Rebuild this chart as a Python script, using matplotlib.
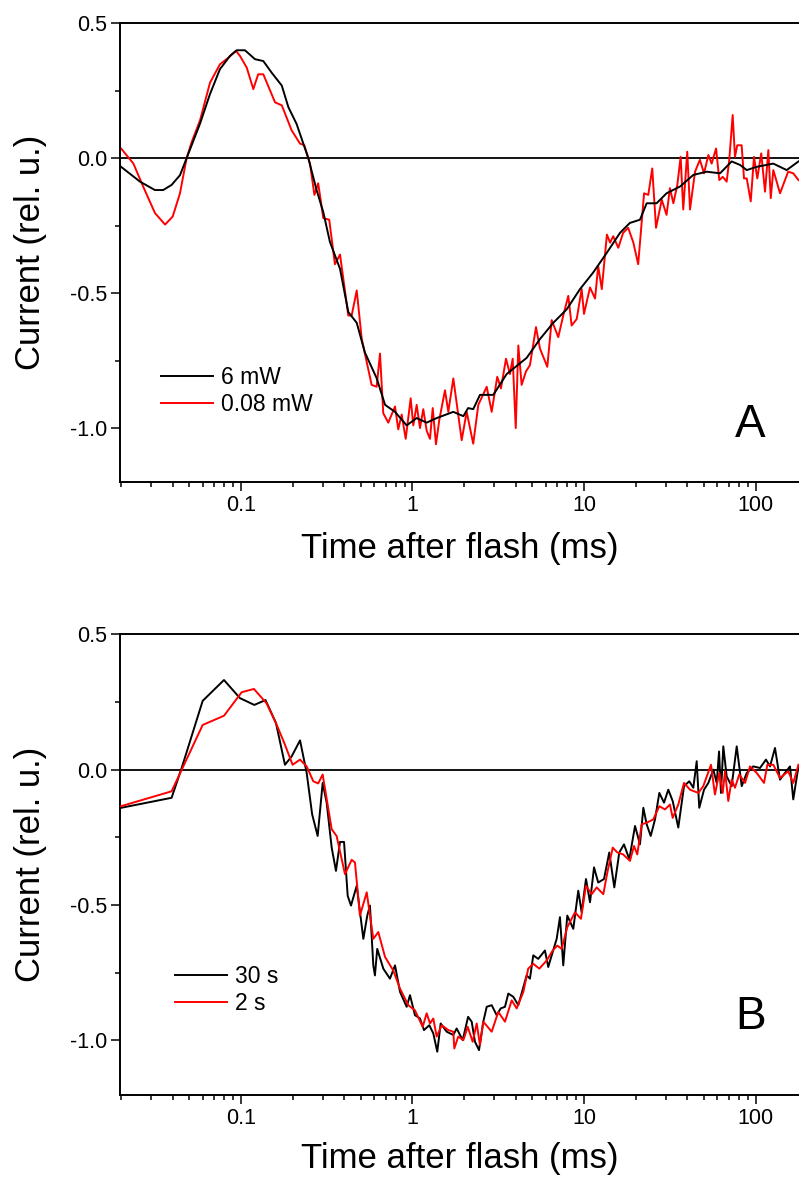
import matplotlib
matplotlib.use("Agg")
import matplotlib.pyplot as plt
from matplotlib.ticker import FixedLocator, NullFormatter
import numpy as np

plt.rcParams['font.family'] = ['Liberation Sans', 'DejaVu Sans']
plt.rcParams['axes.unicode_minus'] = False

# panel A: 6 mW vs 0.08 mW
t_a_6mw = [0.02, 0.0258, 0.0315, 0.0352, 0.0394, 0.0441, 0.0482, 0.0577, 0.066, 0.0754,
           0.0863, 0.0944, 0.1055, 0.1207, 0.135, 0.151, 0.173, 0.189, 0.211, 0.231,
           0.247, 0.276, 0.302, 0.330, 0.378, 0.4225, 0.473, 0.528, 0.618, 0.692,
           0.791, 0.925, 1.058, 1.21, 1.384, 1.73, 1.98, 2.11, 2.26, 2.475,
           2.96, 3.54, 4.63, 5.54, 6.62, 7.93, 9.48, 11.3, 13.6, 16.2,
           18.5, 21.2, 23.2, 26.5, 30.3, 36.3, 43.4, 51.9, 62.1, 72.6,
           81.3, 88.9, 101.6, 127, 152, 178]
i_a_6mw = [-0.032, -0.087, -0.118, -0.118, -0.099, -0.063, 0.0, 0.128, 0.238, 0.33,
           0.379, 0.40, 0.40, 0.367, 0.36, 0.317, 0.269, 0.189, 0.127, 0.054,
           0.0, -0.118, -0.2, -0.31, -0.41, -0.57, -0.61, -0.72, -0.815, -0.914,
           -0.94, -0.99, -0.963, -0.98, -0.963, -0.94, -0.956, -0.926, -0.93, -0.877,
           -0.877, -0.80, -0.74, -0.67, -0.61, -0.56, -0.485, -0.424, -0.35, -0.277,
           -0.24, -0.228, -0.167, -0.167, -0.13, -0.105, -0.062, -0.05, -0.056, -0.012,
           -0.025, -0.044, -0.032, -0.02, -0.044, -0.012]

t_a_008mw = [0.02, 0.0236, 0.0269, 0.0315, 0.0361, 0.040, 0.0441, 0.0482, 0.0516, 0.0577,
             0.066, 0.0754, 0.0843, 0.0935, 0.0987, 0.108, 0.118, 0.126, 0.135, 0.158,
             0.173, 0.1975, 0.221, 0.234, 0.2526, 0.268, 0.282, 0.302, 0.327, 0.353,
             0.378, 0.4225, 0.442, 0.473, 0.506, 0.578, 0.618, 0.6465, 0.6755, 0.7226,
             0.791, 0.826, 0.865, 0.913, 0.976, 1.011, 1.058, 1.106, 1.156, 1.21,
             1.265, 1.312, 1.371, 1.433, 1.547, 1.618, 1.73, 1.936, 2.07, 2.26,
             2.42, 2.709, 2.896, 3.12, 3.28, 3.51, 3.70, 3.84, 4.0, 4.14,
             4.33, 4.59, 4.84, 5.25, 5.54, 6.11, 6.48, 7.08, 7.57, 8.10,
             8.47, 9.07, 9.69, 10.0, 10.84, 11.6, 12.1, 12.7, 13.6, 14.2,
             14.8, 15.85, 16.9, 18.1, 19.4, 20.7, 22.4, 23.7, 25.0, 26.3,
             28.4, 30.3, 31.7, 33.2, 35.0, 36.6, 37.9, 40.0, 41.5, 44.4,
             47.4, 50.1, 53.1, 55.5, 58.9, 61.5, 64.4, 67.9, 70.3, 73.6,
             75.9, 78.3, 83.0, 85.7, 88.9, 93.8, 98.0, 102.4, 108, 113.6,
             118.8, 122.7, 127, 139, 155, 166, 178]
i_a_008mw = [0.036, -0.02, -0.105, -0.203, -0.246, -0.216, -0.13, 0.0, 0.06, 0.14,
             0.28, 0.348, 0.372, 0.398, 0.379, 0.336, 0.256, 0.311, 0.311, 0.207,
             0.196, 0.103, 0.054, 0.048, -0.02, -0.136, -0.093, -0.222, -0.228, -0.393,
             -0.357, -0.583, -0.583, -0.49, -0.67, -0.84, -0.847, -0.724, -0.945, -0.98,
             -0.92, -1.005, -0.95, -1.04, -0.89, -0.99, -0.914, -1.0, -0.93, -1.01,
             -1.04, -0.926, -1.06, -0.97, -0.86, -0.94, -0.816, -1.045, -0.94, -1.058,
             -0.914, -0.847, -0.94, -0.81, -0.853, -0.743, -0.80, -0.743, -1.0, -0.694,
             -0.84, -0.79, -0.767, -0.626, -0.706, -0.773, -0.60, -0.663, -0.583, -0.51,
             -0.62, -0.596, -0.485, -0.577, -0.479, -0.52, -0.40, -0.485, -0.283, -0.313,
             -0.289, -0.332, -0.277, -0.258, -0.313, -0.393, -0.13, -0.136, -0.038, -0.258,
             -0.154, -0.21, -0.111, -0.167, -0.099, 0.005, -0.19, 0.024, -0.19, -0.05,
             -0.006, -0.056, 0.012, -0.02, 0.036, -0.081, -0.069, -0.087, -0.006, 0.16,
             0.005, 0.048, 0.048, -0.075, -0.075, -0.16, 0.005, -0.075, 0.018, -0.124,
             0.03, -0.148, -0.044, -0.13, -0.05, -0.056, -0.081]

# panel B: 30 s vs 2 s
t_b_30s = [0.02, 0.0394, 0.0451, 0.0598, 0.0796, 0.0987, 0.1196, 0.139, 0.160, 0.1805,
           0.1975, 0.221, 0.2416, 0.260, 0.280, 0.2995, 0.316, 0.338, 0.358, 0.378,
           0.399, 0.419, 0.438, 0.473, 0.517, 0.545, 0.565, 0.591, 0.604, 0.623,
           0.676, 0.739, 0.791, 0.846, 0.925, 0.967, 1.034, 1.106, 1.167, 1.253,
           1.322, 1.395, 1.46, 1.583, 1.73, 1.81, 1.962, 2.11, 2.214, 2.314,
           2.443, 2.587, 2.709, 2.896, 3.097, 3.268, 3.462, 3.62, 3.87, 4.14,
           4.63, 4.84, 5.06, 5.41, 5.92, 6.19, 6.48, 6.93, 7.24, 7.57,
           7.99, 8.66, 9.26, 9.69, 10.27, 10.84, 11.44, 12.1, 13.08, 14.04,
           15.02, 16.06, 17.11, 18.37, 19.84, 21.2, 22.18, 23.2, 24.49, 25.94,
           27.49, 29.28, 31.01, 32.9, 35.46, 38.3, 41.1, 43.4, 45.4, 47.0,
           50.1, 53.1, 56.75, 59.4, 61.3, 62.9, 64.9, 67.9, 72.6, 77.7,
           83.1, 88.9, 97.1, 106.2, 115.1, 121.5, 129.9, 138.9, 148.6, 158.9,
           166, 178]
i_b_30s = [-0.141, -0.104, 0.006, 0.254, 0.331, 0.264, 0.239, 0.257, 0.172, 0.018,
           0.049, 0.108, -0.012, -0.165, -0.245, -0.049, -0.122, -0.288, -0.374, -0.267,
           -0.267, -0.466, -0.502, -0.429, -0.625, -0.539, -0.502, -0.723, -0.76, -0.662,
           -0.735, -0.772, -0.723, -0.821, -0.876, -0.833, -0.907, -0.919, -0.962, -0.944,
           -0.974, -1.042, -0.9375, -0.968, -0.98, -0.956, -0.999, -0.913, -0.931, -1.005,
           -1.036, -0.931, -0.876, -0.87, -0.907, -0.882, -0.876, -0.827, -0.839, -0.87,
           -0.76, -0.772, -0.686, -0.699, -0.668, -0.729, -0.686, -0.625, -0.545, -0.723,
           -0.539, -0.588, -0.447, -0.527, -0.404, -0.49, -0.361, -0.417, -0.404, -0.306,
           -0.435, -0.306, -0.276, -0.331, -0.208, -0.276, -0.141, -0.202, -0.245, -0.184,
           -0.086, -0.122, -0.074, -0.116, -0.214, -0.061, -0.043, -0.067, 0.031, -0.141,
           -0.074, -0.049, 0.0, -0.049, 0.067, -0.086, 0.086, -0.025, -0.061, 0.086,
           -0.061, -0.012, 0.012, 0.006, 0.037, 0.012, 0.08, -0.037, -0.012, 0.012,
           -0.11, 0.012]

t_b_2s = [0.02, 0.0394, 0.0461, 0.0598, 0.0796, 0.101, 0.119, 0.141, 0.160, 0.1805,
          0.200, 0.221, 0.2416, 0.264, 0.282, 0.2995, 0.338, 0.361, 0.404, 0.442,
          0.462, 0.494, 0.541, 0.591, 0.632, 0.692, 0.773, 0.846, 0.945, 1.034,
          1.147, 1.21, 1.265, 1.322, 1.384, 1.48, 1.618, 1.73, 1.753, 1.849,
          1.98, 2.099, 2.244, 2.368, 2.475, 2.587, 2.896, 3.165, 3.462, 3.79,
          4.05, 4.43, 4.73, 5.06, 5.49, 6.06, 6.57, 6.99, 7.41, 7.99,
          8.86, 9.60, 10.27, 11.09, 11.86, 12.96, 13.68, 14.71, 15.64, 16.9,
          18.54, 19.57, 20.45, 21.7, 23.2, 25.35, 27.49, 29.67, 31.7, 32.9,
          35.46, 38.3, 41.5, 46.4, 49.6, 55.0, 58.0, 61.5, 64.4, 66.4,
          69.4, 72.6, 75.9, 80.4, 86.9, 92.9, 101.6, 112.1, 117.2, 127,
          139, 155, 166, 178]
i_b_2s = [-0.135, -0.08, 0.012, 0.165, 0.199, 0.286, 0.298, 0.245, 0.172, 0.092,
          0.018, 0.037, 0.012, -0.043, -0.051, -0.018, -0.22, -0.245, -0.386, -0.333,
          -0.343, -0.539, -0.453, -0.625, -0.60, -0.692, -0.742, -0.809, -0.87, -0.889,
          -0.95, -0.90, -0.9375, -0.919, -0.986, -0.944, -0.962, -0.968, -1.03, -0.986,
          -0.999, -0.95, -1.005, -0.9375, -1.017, -0.931, -0.968, -0.895, -0.931, -0.852,
          -0.882, -0.821, -0.735, -0.717, -0.735, -0.705, -0.668, -0.65, -0.662, -0.582,
          -0.527, -0.551, -0.429, -0.46, -0.435, -0.46, -0.38, -0.288, -0.306, -0.313,
          -0.337, -0.282, -0.313, -0.202, -0.196, -0.184, -0.135, -0.147, -0.129, -0.178,
          -0.129, -0.049, -0.074, -0.086, -0.061, 0.018, -0.092, -0.012, -0.086, -0.006,
          -0.116, -0.037, -0.067, -0.018, -0.049, 0.012, -0.012, -0.049, 0.018, 0.018,
          -0.031, -0.006, -0.049, 0.018]

x_major = [0.1, 1, 10, 100]
x_major_labels = ['0.1', '1', '10', '100']
y_major = [-1.0, -0.5, 0.0, 0.5]
y_major_labels = ['-1.0', '-0.5', '0.0', '0.5']

fig = plt.figure(figsize=(7.99, 11.82), dpi=100)
ax_a = fig.add_axes([0.1508, 0.5922, 0.8492, 0.3881])
ax_b = fig.add_axes([0.1508, 0.0740, 0.8492, 0.3894])

panels = [
    (ax_a, t_a_6mw, i_a_6mw, '6 mW', t_a_008mw, i_a_008mw, '0.08 mW', 'A',
     (0.059, 0.198), 0.124, -0.109),
    (ax_b, t_b_30s, i_b_30s, '30 s', t_b_2s, i_b_2s, '2 s', 'B',
     (0.081, 0.228), 0.169, -0.104),
]

minor = []
for dec in [0.01, 0.1, 1, 10, 100]:
    for k in range(2, 10):
        minor.append(dec * k)

for ax, t1, y1, l1, t2, y2, l2, tag, leg_pos, tag_y, xl_y in panels:
    ax.axhline(0, color='black', lw=1.3, zorder=1)
    ax.plot(t1, y1, color='black', lw=1.4, label=l1, zorder=3)
    ax.plot(t2, y2, color='red', lw=1.4, label=l2, zorder=2 if tag == 'A' else 4)
    ax.set_xscale('log')
    ax.set_xlim(0.01984, 179.3)
    ax.set_ylim(-1.2, 0.5)

    ax.xaxis.set_major_locator(FixedLocator(x_major))
    ax.set_xticklabels(x_major_labels)
    ax.xaxis.set_minor_locator(FixedLocator(minor))
    ax.xaxis.set_minor_formatter(NullFormatter())
    ax.yaxis.set_major_locator(FixedLocator(y_major))
    ax.set_yticklabels(y_major_labels)
    ax.yaxis.set_minor_locator(FixedLocator([-0.75, -0.25, 0.25]))

    ax.tick_params(which='major', direction='out', length=6.5, width=1.1,
                   labelsize=15.5, pad=3)
    ax.tick_params(which='minor', direction='out', length=3.6, width=1.1)
    ax.spines['right'].set_visible(False)
    for s in ['left', 'bottom', 'top']:
        ax.spines[s].set_linewidth(1.4)

    ax.set_xlabel('Time after flash (ms)', fontsize=25)
    ax.xaxis.set_label_coords(0.5, xl_y)
    ax.set_ylabel('Current (rel. u.)', fontsize=25)
    ax.yaxis.set_label_coords(-0.108, 0.5)

    ax.legend(loc='center left', bbox_to_anchor=leg_pos, frameon=False,
              fontsize=16.5, handlelength=2.27, handletextpad=0.35,
              labelspacing=0.18, borderpad=0, borderaxespad=0)
    ax.text(0.928, tag_y, tag, transform=ax.transAxes, fontsize=33,
            ha='center', va='center')

fig.savefig('out.png', dpi=100)
